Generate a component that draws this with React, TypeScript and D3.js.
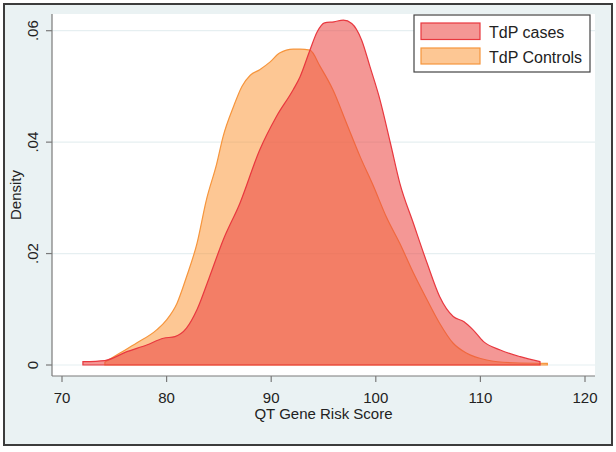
import React from "react";
import * as d3 from "d3";

const casesX = [72, 74.1, 76.2, 78.1, 79.7, 80.8, 81.9, 82.9, 84.1, 85.4, 87.0, 88.9, 90.5, 92.1, 92.75, 93.7, 94.4, 95.1, 96.0, 96.9, 97.7, 98.65, 99.45, 100.4, 101.4, 102.3, 103.6, 104.9, 106.1, 107.4, 108.4, 109.3, 110.3, 111.9, 113.8, 115.7];
const casesY = [0.0006, 0.0008, 0.0024, 0.0036, 0.0048, 0.0051, 0.0066, 0.0099, 0.0158, 0.0224, 0.029, 0.0386, 0.0446, 0.0494, 0.0517, 0.0565, 0.0598, 0.0614, 0.0616, 0.0619, 0.0613, 0.0583, 0.0535, 0.0476, 0.0398, 0.0326, 0.0254, 0.0183, 0.0123, 0.0087, 0.0078, 0.0063, 0.0042, 0.0027, 0.0015, 0.0006];

const controlsX = [74.1, 75.5, 77.1, 79.05, 80.0, 81.0, 81.9, 82.9, 83.8, 84.8, 85.4, 86.4, 87.2, 88.0, 88.9, 89.9, 90.8, 92.1, 92.75, 93.7, 94.7, 95.9, 97.2, 98.5, 99.8, 101.0, 102.3, 103.6, 104.9, 106.1, 107.4, 108.7, 110.6, 113.1, 116.4];
const controlsY = [0.0005, 0.0021, 0.0039, 0.0063, 0.0081, 0.0111, 0.0158, 0.0218, 0.0296, 0.0362, 0.041, 0.0464, 0.05, 0.052, 0.053, 0.0544, 0.056, 0.0567, 0.0567, 0.0565, 0.0535, 0.0494, 0.0434, 0.0374, 0.032, 0.0266, 0.0218, 0.0165, 0.0117, 0.0075, 0.0039, 0.0021, 0.0009, 0.0004, 0.0003];

const xTicks = [70, 80, 90, 100, 110, 120];
const yTicks = [0, 0.02, 0.04, 0.06];
const yTickLabels = ["0", ".02", ".04", ".06"];
const legendLabels = ["TdP cases", "TdP Controls"];

const W = 616;
const H = 452;
const plot = { l: 52, r: 595, t: 14, b: 376 };

const FONT = "Arial, 'Liberation Sans', Helvetica, sans-serif";

const casesFill = "rgb(235,70,66)";
const casesStroke = "#e8383f";
const ctrlFill = "rgb(251,143,42)";
const ctrlStroke = "#f6953c";

export default function App() {
  const x = d3.scaleLinear().domain([70, 120]).range([62, 585]);
  const y = d3.scaleLinear().domain([0, 0.06]).range([365, 30.7]);

  const cases = casesX.map((v, i) => [v, casesY[i]] as [number, number]);
  const ctrls = controlsX.map((v, i) => [v, controlsY[i]] as [number, number]);

  const area = d3
    .area<[number, number]>()
    .x((d) => x(d[0]))
    .y0(y(0))
    .y1((d) => y(d[1]))
    .curve(d3.curveMonotoneX);

  const closedLine = (pts: [number, number][]) => {
    const p = area(pts) || "";
    return p;
  };

  return (
    <svg
      width={W}
      height={H}
      style={{ position: "absolute", left: 0, top: 0 }}
      xmlns="http://www.w3.org/2000/svg"
    >
      <rect x={0} y={0} width={W} height={H} fill="#ffffff" />
      <rect x={4} y={4} width={608} height={441} fill="#eaf2f3" stroke="#3c3c3c" strokeWidth={2} />
      <rect x={plot.l} y={plot.t} width={plot.r - plot.l} height={plot.b - plot.t} fill="#ffffff" />

      {yTicks.map((t) => (
        <line key={"g" + t} x1={plot.l} x2={plot.r} y1={y(t)} y2={y(t)} stroke="#e6eff1" strokeWidth={1.2} />
      ))}

      <path d={closedLine(ctrls)} fill={ctrlFill} fillOpacity={0.5} stroke={ctrlStroke} strokeWidth={1.2} />
      <path d={closedLine(cases)} fill={casesFill} fillOpacity={0.56} stroke={casesStroke} strokeWidth={1.2} />

      {/* axes */}
      <line x1={plot.l} x2={plot.l} y1={plot.t} y2={plot.b} stroke="#7a7a7a" strokeWidth={1.2} />
      <line x1={plot.l} x2={plot.r} y1={plot.b} y2={plot.b} stroke="#7a7a7a" strokeWidth={1.2} />

      {xTicks.map((t) => (
        <g key={"x" + t}>
          <line x1={x(t)} x2={x(t)} y1={plot.b} y2={plot.b + 6} stroke="#7a7a7a" strokeWidth={1.2} />
          <text x={x(t)} y={403} textAnchor="middle" fontFamily={FONT} fontSize={15} fill="#222">
            {t}
          </text>
        </g>
      ))}
      <text x={(plot.l + plot.r) / 2} y={419} textAnchor="middle" fontFamily={FONT} fontSize={15} fill="#222">
        QT Gene Risk Score
      </text>

      {yTicks.map((t, i) => (
        <g key={"y" + t}>
          <line x1={plot.l - 6} x2={plot.l} y1={y(t)} y2={y(t)} stroke="#7a7a7a" strokeWidth={1.2} />
          <text
            transform={`translate(38,${y(t)}) rotate(-90)`}
            textAnchor="middle"
            fontFamily={FONT}
            fontSize={15}
            fill="#222"
          >
            {yTickLabels[i]}
          </text>
        </g>
      ))}
      <text
        transform={`translate(21,${(plot.t + plot.b) / 2}) rotate(-90)`}
        textAnchor="middle"
        fontFamily={FONT}
        fontSize={15}
        fill="#222"
      >
        Density
      </text>

      {/* legend */}
      <rect x={414} y={15} width={176} height={57} fill="#ffffff" stroke="#444" strokeWidth={1.2} />
      <rect x={421} y={23} width={59} height={16.5} fill={casesFill} fillOpacity={0.56} stroke={casesStroke} strokeWidth={1.2} />
      <rect x={421} y={48} width={59} height={16} fill={ctrlFill} fillOpacity={0.5} stroke={ctrlStroke} strokeWidth={1.2} />
      <text x={489} y={37.5} fontFamily={FONT} fontSize={16} fill="#222">
        {legendLabels[0]}
      </text>
      <text x={489} y={62.5} fontFamily={FONT} fontSize={16} fill="#222">
        {legendLabels[1]}
      </text>
    </svg>
  );
}
